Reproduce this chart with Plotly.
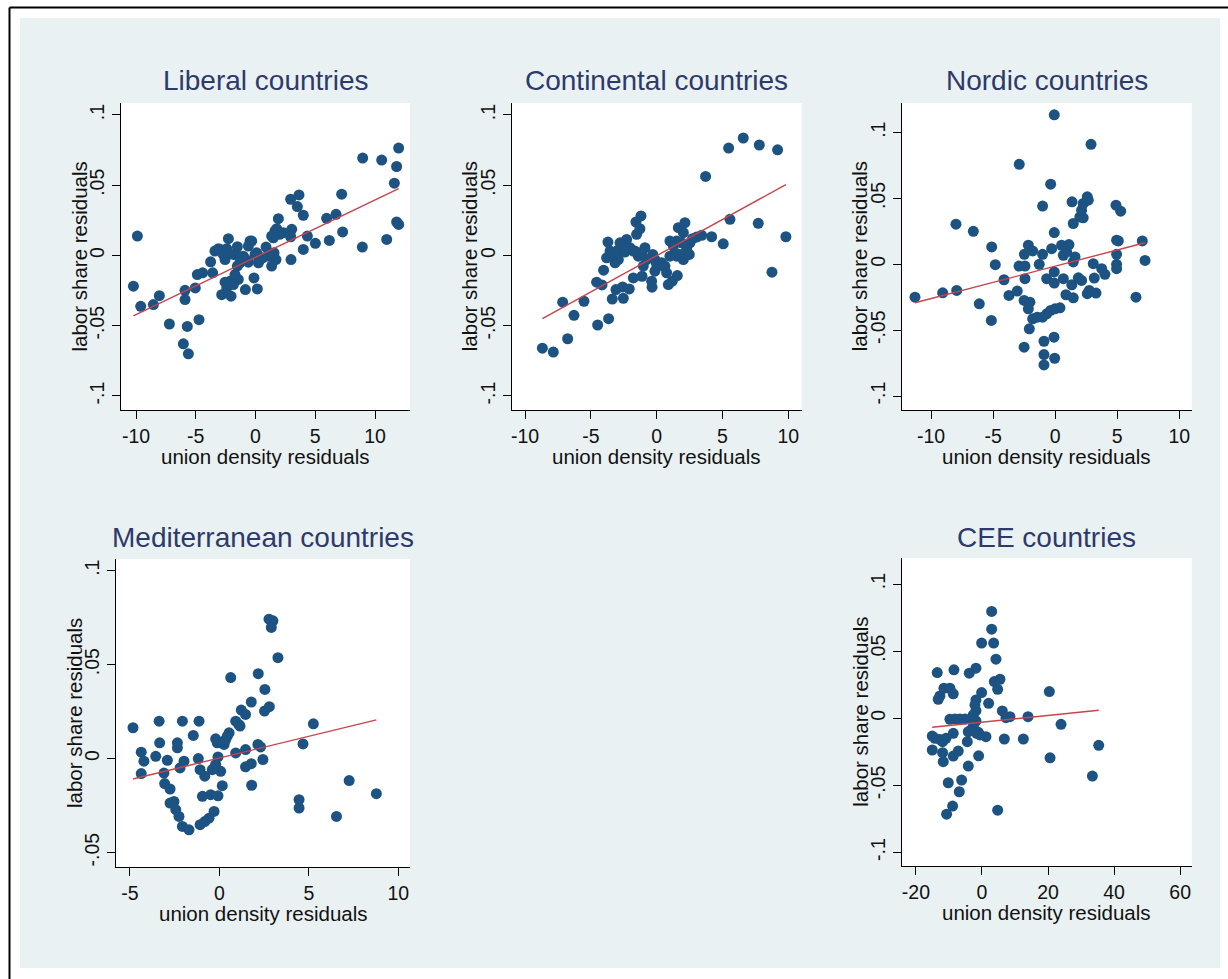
import plotly.graph_objects as go

W, H = 1228, 979
FONT = "Liberation Sans, Arial, sans-serif"

# ---------------- data ----------------
lib_x = [-10.22, -9.89, -9.61, -8.55, -8.05, -7.21, -5.90, -5.90, -5.71, -6.04, -5.62, -4.73, -5.04,
         -4.87, -4.43, -3.59, -3.76, -3.40, -2.98, -2.70, -2.27, -2.55, -1.85, -1.52, -2.83, -2.55,
         -2.41, -2.05, -2.13, -1.72, -1.52, -1.30, -1.44, -1.85, -0.85, -1.02, -0.60, -0.32, -0.60,
         -0.04, -0.13, 0.15, 0.24, 0.60, 0.88, 1.35, 1.55, 1.71, 1.49, 1.63, 1.91, 2.00, 2.33, 2.97,
         3.03, 2.94, 2.94, 3.64, 3.50, 4.00, 4.00, 4.34, 5.01, 5.95, 6.18, 6.74, 7.21, 7.29, 8.94,
         8.97, 10.56, 10.98, 11.62, 11.81, 11.98, 11.81, 11.98,
         -3.10, -2.41, -1.44, -0.80, -0.46, 0.10, 0.38, 1.07, 1.77, 1.35]
lib_y = [-0.0219, 0.0138, -0.0362, -0.0350, -0.0286, -0.0488, -0.0248, -0.0314, -0.0505, -0.0629,
         -0.0700, -0.0457, -0.0231, -0.0136, -0.0124, -0.0124, -0.0045, 0.0031, 0.0043, 0.0007,
         0.0119, -0.0029, 0.0007, 0.0062, -0.0279, -0.0190, -0.0231, -0.0290, -0.0183, -0.0136,
         -0.0076, -0.0052, -0.0171, -0.0207, -0.0243, -0.0005, 0.0067, 0.0102, -0.0048, 0.0007,
         -0.0160, -0.0238, -0.0052, -0.0017, 0.0060, -0.0076, 0.0019, -0.0029, 0.0126, 0.0174,
         0.0262, 0.0150, 0.0162, -0.0029, 0.0186, 0.0133, 0.0400, 0.0431, 0.0348, 0.0286, 0.0043,
         0.0138, 0.0086, 0.0264, 0.0107, 0.0293, 0.0436, 0.0167, 0.0060, 0.0693, 0.0679, 0.0114,
         0.0514, 0.0633, 0.0764, 0.0238, 0.0221,
         0.0048, 0.0048, -0.0005, -0.0029, 0.0102, 0.0019, -0.0029, -0.0005, 0.0190, 0.0138]
lib_fit = [-0.0013, 0.00408]   # intercept, slope

con_x = [-8.68, -7.85, -6.76, -7.14, -6.28, -5.52, -4.48, -3.65, -4.56, -4.15, -4.03, -3.70, -3.80,
         -3.42, -3.54, -3.04, -3.16, -2.91, -3.37, -3.09, -2.58, -2.53, -2.08, -2.53, -2.28, -2.03,
         -1.65, -1.52, -1.57, -1.19, -1.27, -1.39, -1.77, -1.11, -0.89, -1.01, -0.76, -0.30, -0.38,
         -0.35, -0.13, 0.00, 0.38, 0.63, 0.89, 1.19, 1.57, 1.01, 1.27, 1.52, 1.65, 2.15, 1.77, 2.03,
         2.28, 2.53, 2.48, 2.73, 3.04, 3.42, 3.72, 4.18, 5.06, 5.57, 5.47, 6.58, 7.80, 7.72, 8.76,
         9.19, 9.82,
         -0.13, 0.51, 0.76, 1.39, 1.90, 2.03, 1.01, -2.41, -2.78, -1.77, -1.14, 1.52]
con_y = [-0.0660, -0.0688, -0.0593, -0.0333, -0.0426, -0.0326, -0.0495, -0.0450, -0.0190, -0.0210,
         -0.0105, 0.0095, -0.0017, -0.0005, 0.0031, 0.0031, -0.0052, -0.0029, -0.0310, -0.0243,
         -0.0224, -0.0305, -0.0238, 0.0067, 0.0114, 0.0055, 0.0031, 0.0150, 0.0238, 0.0281, 0.0190,
         -0.0005, -0.0160, -0.0148, 0.0055, -0.0076, -0.0029, 0.0007, -0.0183, -0.0226, -0.0112,
         -0.0064, -0.0052, -0.0076, -0.0207, -0.0183, -0.0143, -0.0005, 0.0067, 0.0102, 0.0198,
         0.0233, 0.0007, -0.0029, 0.0043, 0.0090, 0.0007, 0.0119, 0.0131, 0.0143, 0.0562, 0.0133,
         0.0083, 0.0257, 0.0764, 0.0836, 0.0786, 0.0229, -0.0119, 0.0752, 0.0133,
         -0.0029, -0.0076, -0.0124, 0.0019, 0.0090, 0.0162, 0.0102, 0.0024, 0.0090, 0.0031, 0.0019,
         -0.0005]
con_fit = [-0.0002, 0.00516]

nor_x = [-11.29, -9.06, -7.93, -7.99, -6.59, -6.11, -5.11, -4.82, -5.14, -4.12, -3.72, -3.05, -2.89,
         -2.91, -2.43, -2.43, -2.48, -2.16, -1.81, -2.50, -2.03, -2.16, -1.81, -2.08, -2.50, -1.28,
         -1.01, -1.01, -1.44, -1.01, -0.68, -0.36, -0.01, 0.39, -0.90, -0.09, -0.90, -0.90, -0.04,
         -0.36, -0.07, -0.07, -0.28, -0.68, -0.07, -0.07, 0.52, 0.66, 1.11, 0.66, 1.36, 1.34, 0.87,
         1.46, 1.46, 1.60, 1.46, 1.99, 2.26, 2.13, 2.26, 2.59, 2.67, 2.89, 1.87, 2.13, 2.59, 2.75,
         3.29, 3.15, 3.07, 3.75, 4.01, 4.90, 5.28, 4.95, 5.09, 4.95, 4.95, 4.95, 6.51, 7.02, 7.24,
         0.93]
nor_y = [-0.0249, -0.0216, -0.0198, 0.0305, 0.0251, -0.0300, 0.0132, -0.0003, -0.0426, -0.0117,
         -0.0236, -0.0203, 0.0759, -0.0013, -0.0013, -0.0109, 0.0076, 0.0145, 0.0102, -0.0274,
         -0.0287, -0.0338, -0.0414, -0.0490, -0.0629, 0.0000, 0.0076, 0.0442, -0.0401, -0.0401,
         -0.0376, -0.0350, -0.0338, -0.0330, -0.0584, -0.0553, -0.0685, -0.0764, -0.0713, 0.0609,
         0.1135, 0.0241, 0.0119, -0.0109, -0.0058, -0.0142, 0.0145, 0.0069, 0.0150, -0.0109, 0.0475,
         -0.0155, -0.0231, -0.0254, 0.0310, 0.0056, 0.0018, 0.0360, 0.0353, 0.0411, 0.0462, 0.0513,
         0.0487, 0.0911, -0.0102, -0.0122, -0.0223, -0.0198, -0.0218, -0.0104, 0.0005, -0.0033,
         -0.0076, 0.0449, 0.0404, 0.0183, 0.0178, 0.0076, 0.0000, -0.0033, -0.0249, 0.0178, 0.0030,
         0.0094]
nor_fit = [-0.0014, 0.00246]

med_x = [-4.83, -4.37, -4.22, -4.37, -3.56, -3.37, -3.34, -3.10, -3.06, -2.76, -2.91, -2.76, -2.54,
         -2.35, -2.35, -2.20, -1.98, -2.44, -2.26, -2.07, -1.70, -2.07, -1.46, -1.14, -1.18, -1.08,
         -0.82, -0.95, -0.49, -0.08, -1.08, -0.82, -0.58, -0.30, 0.16, -0.40, -0.21, -0.08, 0.07,
         -0.21, 0.07, 0.35, 0.54, 0.63, 0.91, 0.91, 1.15, 1.22, 1.46, 1.46, 1.46, 1.78, 1.80, 1.78,
         2.15, 2.30, 2.43, 2.17, 2.54, 2.52, 2.79, 2.77, 2.99, 2.90, 3.27, 4.45, 4.45, 4.67, 5.25,
         6.54, 7.25, 8.77,
         0.26, 0.44, -0.12, -0.30, 1.09]
med_y = [0.0164, 0.0034, -0.0014, -0.0080, 0.0012, 0.0199, 0.0084, -0.0077, -0.0133, -0.0162,
         -0.0009, -0.0237, -0.0228, 0.0084, 0.0057, -0.0050, -0.0014, -0.0272, -0.0308, -0.0361,
         -0.0379, 0.0199, 0.0123, 0.0199, 0.0000, -0.0059, -0.0094, -0.0201, -0.0192, -0.0198,
         -0.0352, -0.0335, -0.0317, -0.0281, -0.0144, -0.0059, -0.0032, 0.0009, -0.0068, 0.0105,
         0.0084, 0.0101, 0.0137, 0.0431, 0.0030, 0.0199, 0.0173, 0.0258, 0.0235, 0.0048, -0.0044,
         -0.0027, -0.0142, 0.0301, 0.0075, 0.0062, -0.0005, 0.0452, 0.0368, 0.0253, 0.0276, 0.0742,
         0.0733, 0.0698, 0.0537, -0.0219, -0.0263, 0.0078, 0.0185, -0.0308, -0.0117, -0.0187,
         0.0075, 0.0119, 0.0084, -0.0050, 0.0181]
med_fit = [0.0003, 0.00231]

cee_x = [-15.05, -15.05, -14.24, -13.54, -13.23, -12.73, -12.73, -11.92, -11.92, -11.72, -11.52,
         -10.91, -10.71, -10.20, -9.70, -8.89, -8.69, -8.69, -8.48, -8.69, -7.17, -9.70, -8.18,
         -6.67, -5.15, -6.87, -6.16, -4.14, -4.44, -3.84, -3.33, -1.82, -1.82, -1.82, -1.82, -1.11,
         -1.01, -0.10, -0.10, 1.21, 2.02, 2.93, 2.93, 3.54, 4.24, 3.74, 5.45, 4.75, 4.75, 6.16, 6.77,
         7.27, 8.48, 12.53, 13.94, 20.40, 20.61, 23.94, 33.43, 35.35,
         -3.13, -2.63, -1.62, -0.61, -4.14, -2.63, -2.12]
cee_y = [-0.0236, -0.0132, -0.0149, 0.0341, 0.0142, 0.0167, -0.0157, -0.0174, -0.0256, -0.0323,
         0.0224, -0.0149, -0.0714, -0.0480, 0.0224, -0.0654, 0.0182, -0.0112, 0.0361, -0.0281,
         -0.0244, -0.0007, -0.0005, -0.0005, -0.0005, -0.0547, -0.0460, -0.0356, -0.0174, 0.0336,
         -0.0087, 0.0373, 0.0137, 0.0057, -0.0020, -0.0104, -0.0279, 0.0192, 0.0560, -0.0137,
         0.0112, 0.0796, 0.0664, 0.0560, 0.0440, 0.0274, 0.0291, 0.0216, -0.0684, 0.0055, -0.0154,
         0.0005, 0.0012, -0.0154, 0.0012, 0.0199, -0.0294, -0.0045, -0.0430, -0.0201,
         -0.0012, -0.0062, -0.0112, -0.0124, -0.0100, 0.0025, 0.0100]
cee_fit = [-0.0029, 0.000251]

titles = ["Liberal countries", "Continental countries", "Nordic countries",
          "Mediterranean countries", "CEE countries"]
x_title = "union density residuals"
y_title = "labor share residuals"

x_ticks_a = [-10, -5, 0, 5, 10]
x_ticks_med = [-5, 0, 5, 10]
x_ticks_cee = [-20, 0, 20, 40, 60]
y_ticks_a = [-0.1, -0.05, 0, 0.05, 0.1]
y_ticks_med = [-0.05, 0, 0.05, 0.1]
y_text = {-0.1: "-.1", -0.05: "-.05", 0: "0", 0.05: ".05", 0.1: ".1"}

# ---------------- styling / layout ----------------
MARKER = "#1d5382"
LINE = "#c8434b"
BG = "#eaf1f3"
TITLE_C = "#2d3a6b"


def fx(px):
    return px / W


def fy(py):
    return 1 - py / H


panels = [
    dict(t=titles[0], x=lib_x, y=lib_y, fit=lib_fit, xr=[-11.26, 12.93], yr=[-0.110, 0.1085],
         xt=x_ticks_a, yt=y_ticks_a, px=(121, 410), py=(103, 410), ty=81),
    dict(t=titles[1], x=con_x, y=con_y, fit=con_fit, xr=[-11.01, 11.02], yr=[-0.110, 0.1085],
         xt=x_ticks_a, yt=y_ticks_a, px=(511.7, 801.7), py=(103, 410), ty=81),
    dict(t=titles[2], x=nor_x, y=nor_y, fit=nor_fit, xr=[-12.36, 11.0], yr=[-0.1106, 0.1225],
         xt=x_ticks_a, yt=y_ticks_a, px=(901.7, 1191.7), py=(103, 410), ty=81),
    dict(t=titles[3], x=med_x, y=med_y, fit=med_fit, xr=[-5.78, 10.65], yr=[-0.0577, 0.1062],
         xt=x_ticks_med, yt=y_ticks_med, px=(116, 410), py=(559, 867), ty=537),
    dict(t=titles[4], x=cee_x, y=cee_y, fit=cee_fit, xr=[-24.3, 63.5], yr=[-0.110, 0.1194],
         xt=x_ticks_cee, yt=y_ticks_a, px=(901.7, 1191.7), py=(558, 866), ty=537),
]

fig = go.Figure()
annotations = []
layout_axes = {}
AXT_FONT = dict(family=FONT, size=20.5, color="#111")

for i, p in enumerate(panels, start=1):
    sfx = "" if i == 1 else str(i)
    xa, ya = "x" + sfx, "y" + sfx
    fig.add_trace(go.Scatter(x=p["x"], y=p["y"], mode="markers", xaxis=xa, yaxis=ya,
                             marker=dict(color=MARKER, size=11, line=dict(width=0)),
                             showlegend=False, hoverinfo="skip"))
    a, b = p["fit"]
    x0, x1 = min(p["x"]), max(p["x"])
    fig.add_trace(go.Scatter(x=[x0, x1], y=[a + b * x0, a + b * x1], mode="lines",
                             xaxis=xa, yaxis=ya, line=dict(color=LINE, width=1.4),
                             showlegend=False, hoverinfo="skip"))
    common = dict(showline=True, linecolor="black", linewidth=1, mirror=False,
                  ticks="outside", ticklen=8, tickwidth=1, tickcolor="black",
                  showgrid=False, zeroline=False, tickfont=dict(family=FONT, size=19.5, color="#111"))
    layout_axes["xaxis" + sfx] = dict(
        common, domain=[fx(p["px"][0]), fx(p["px"][1])], range=p["xr"], anchor=ya,
        tickvals=p["xt"], ticktext=[str(v) for v in p["xt"]], ticklabelstandoff=1)
    layout_axes["yaxis" + sfx] = dict(
        common, domain=[fy(p["py"][1]), fy(p["py"][0])], range=p["yr"], anchor=xa,
        tickvals=p["yt"], ticktext=[y_text[v] for v in p["yt"]], tickangle=-90,
        ticklabelstandoff=0)
    # x-axis title, centred under the plot region
    annotations.append(dict(text=x_title, x=fx((p["px"][0] + p["px"][1]) / 2),
                            y=fy(p["py"][1] + 46), xref="paper", yref="paper",
                            xanchor="center", yanchor="middle", showarrow=False, font=AXT_FONT))
    # y-axis title, rotated, centred on the plot region
    annotations.append(dict(text=y_title, textangle=-90, x=fx(p["px"][0] - 42),
                            y=fy((p["py"][0] + p["py"][1]) / 2), xref="paper", yref="paper",
                            xanchor="center", yanchor="middle", showarrow=False, font=AXT_FONT))
    annotations.append(dict(text=p["t"], x=fx((p["px"][0] + p["px"][1]) / 2), y=fy(p["ty"]),
                            xref="paper", yref="paper", xanchor="center", yanchor="middle",
                            showarrow=False, font=dict(family=FONT, size=28, color=TITLE_C)))

shapes = [
    # white surround outside the light graph region
    dict(type="rect", xref="paper", yref="paper", x0=0, x1=fx(20), y0=0, y1=1,
         fillcolor="white", line=dict(width=0), layer="above"),
    dict(type="rect", xref="paper", yref="paper", x0=0, x1=1, y0=fy(18), y1=1,
         fillcolor="white", line=dict(width=0), layer="above"),
    dict(type="rect", xref="paper", yref="paper", x0=fx(1220), x1=1, y0=0, y1=1,
         fillcolor="white", line=dict(width=0), layer="above"),
    dict(type="rect", xref="paper", yref="paper", x0=0, x1=1, y0=0, y1=fy(968),
         fillcolor="white", line=dict(width=0), layer="above"),
    # black frame lines (top and left)
    dict(type="line", xref="paper", yref="paper", x0=fx(9.5), x1=1, y0=fy(7.5), y1=fy(7.5),
         line=dict(color="black", width=2), layer="above"),
    dict(type="line", xref="paper", yref="paper", x0=fx(9.5), x1=fx(9.5), y0=0, y1=fy(7.5),
         line=dict(color="black", width=2), layer="above"),
]

fig.update_layout(
    width=W, height=H, margin=dict(l=0, r=0, t=0, b=0),
    paper_bgcolor=BG, plot_bgcolor="white",
    font=dict(family=FONT, color="#111"),
    annotations=annotations, shapes=shapes, showlegend=False,
    **layout_axes,
)

fig.write_html("out.html")
